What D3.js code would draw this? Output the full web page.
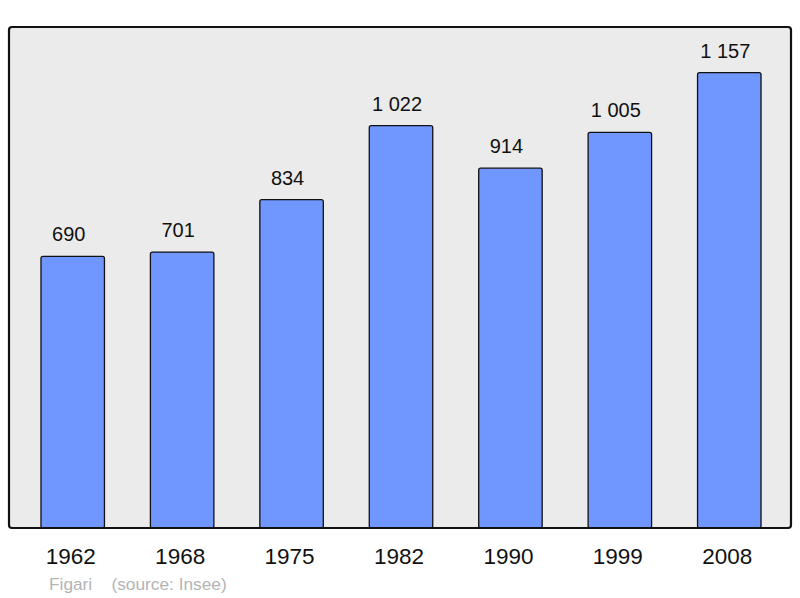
<!DOCTYPE html>
<html>
<head>
<meta charset="utf-8">
<title>Figari population</title>
<style>
  body { margin: 0; background: #fff; }
  text { font-family: "Liberation Sans", Arial, sans-serif; }
</style>
</head>
<body>
<svg width="800" height="598"></svg>
<script src="https://d3js.org/d3.v7.min.js"></script>
<script>

var years = ["1962", "1968", "1975", "1982", "1990", "1999", "2008"];
var population = [690, 701, 834, 1022, 914, 1005, 1157];
var valueLabels = ["690", "701", "834", "1 022", "914", "1 005", "1 157"];

var data = years.map(function(y, i) {
  return {year: y, value: population[i], label: valueLabels[i]};
});

var svg = d3.select("svg"),
    frame = {left: 9, top: 27, right: 791, bottom: 528};

var x = d3.scaleBand()
    .domain(years)
    .range([18, 784])
    .paddingInner(0.42)
    .paddingOuter(0.21);

var y = d3.scaleLinear()
    .domain([0, 1157 * 1.1])
    .range([frame.bottom, frame.top]);

// plot background
svg.append("rect")
    .attr("x", frame.left)
    .attr("y", frame.top)
    .attr("width", frame.right - frame.left)
    .attr("height", frame.bottom - frame.top)
    .attr("rx", 3)
    .attr("fill", "#ebebeb");

svg.selectAll(".bar")
    .data(data)
  .enter().append("rect")
    .attr("class", "bar")
    .attr("x", function(d) { return x(d.year); })
    .attr("y", function(d) { return y(d.value); })
    .attr("width", x.bandwidth())
    .attr("height", function(d) { return y(0) - y(d.value); })
    .attr("rx", 2)
    .attr("fill", "#7096ff")
    .attr("stroke", "#111")
    .attr("stroke-width", 1.3);

// labels sit a bit left of bar centre, like the original
svg.selectAll(".val")
    .data(data)
  .enter().append("text")
    .attr("class", "val")
    .attr("x", function(d) { return x(d.year) + x.bandwidth() / 2 - 4; })
    .attr("y", function(d) { return y(d.value) - 15; })
    .attr("text-anchor", "middle")
    .attr("font-size", 20)
    .attr("fill", "#111")
    .text(function(d) { return d.label; });

// frame on top
svg.append("rect")
    .attr("x", frame.left)
    .attr("y", frame.top)
    .attr("width", frame.right - frame.left)
    .attr("height", frame.bottom - frame.top)
    .attr("rx", 3)
    .attr("fill", "none")
    .attr("stroke", "#111")
    .attr("stroke-width", 2.2);

var axis = svg.append("g")
    .attr("transform", "translate(0," + frame.bottom + ")")
    .call(d3.axisBottom(x).tickSize(0).tickPadding(20));
axis.select(".domain").remove();
axis.selectAll("text")
    .attr("font-family", "Liberation Sans, Arial, sans-serif")
    .attr("font-size", 22.5)
    .attr("dx", -2)
    .attr("fill", "#111");

svg.append("text")
    .attr("x", 49)
    .attr("y", 590)
    .attr("font-size", 17.3)
    .attr("fill", "#b4b4b4")
    .attr("xml:space", "preserve")
    .text("Figari    (source: Insee)");

</script>
</body>
</html>
